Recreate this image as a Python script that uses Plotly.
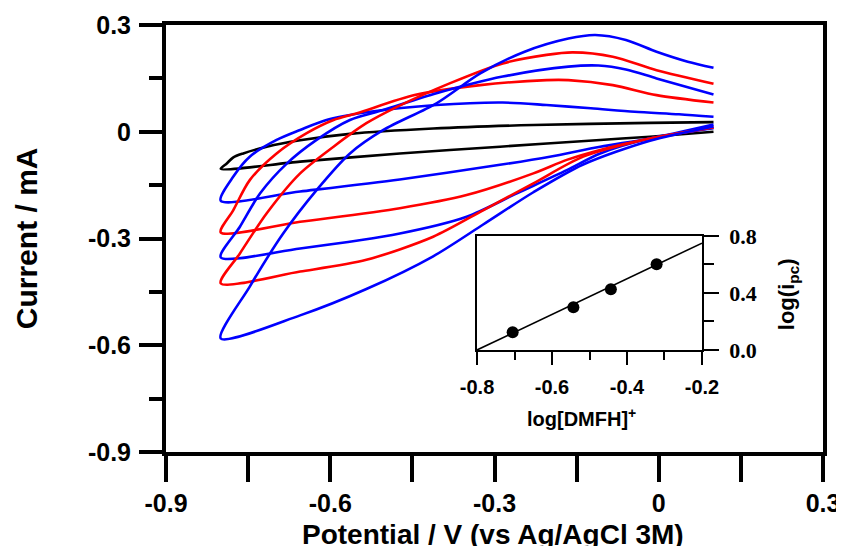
import plotly.graph_objects as go

# ---------------- main CV data (potential V, current mA) ----------------
# each curve: lower (cathodic) branch from 0.1 V down to -0.8 V, then upper branch back to 0.1 V
black_lower_x = [0.1, -0.016, -0.107, -0.29, -0.473, -0.655, -0.8]
black_lower_y = [0.0, -0.014, -0.023, -0.042, -0.061, -0.084, -0.104]
black_upper_x = [-0.8, -0.789, -0.777, -0.759, -0.716, -0.655, -0.564, -0.412, -0.229, -0.016, 0.1]
black_upper_y = [-0.104, -0.089, -0.072, -0.061, -0.042, -0.024, -0.006, 0.009, 0.019, 0.025, 0.027]

blue1_lower_x = [0.1, -0.016, -0.107, -0.199, -0.29, -0.473, -0.655, -0.8]
blue1_lower_y = [0.02, -0.019, -0.042, -0.070, -0.093, -0.134, -0.168, -0.194]
blue1_upper_x = [-0.8, -0.777, -0.747, -0.698, -0.655, -0.607, -0.527, -0.406, -0.285, -0.205, -0.124, -0.044, 0.037, 0.1]
blue1_upper_y = [-0.194, -0.126, -0.070, -0.023, 0.005, 0.033, 0.056, 0.075, 0.082, 0.075, 0.066, 0.056, 0.049, 0.042]

red1_lower_x = [0.1, -0.016, -0.107, -0.168, -0.229, -0.351, -0.473, -0.655, -0.8]
red1_lower_y = [0.012, -0.019, -0.051, -0.079, -0.117, -0.178, -0.215, -0.253, -0.283]
red1_upper_x = [-0.8, -0.777, -0.747, -0.698, -0.643, -0.594, -0.551, -0.446, -0.326, -0.205, -0.165, -0.084, -0.004, 0.1]
red1_upper_y = [-0.283, -0.220, -0.136, -0.061, -0.004, 0.033, 0.052, 0.103, 0.131, 0.145, 0.145, 0.131, 0.103, 0.082]

blue2_lower_x = [0.1, -0.016, -0.107, -0.168, -0.259, -0.351, -0.473, -0.655, -0.8]
blue2_lower_y = [0.01, -0.019, -0.061, -0.108, -0.173, -0.239, -0.286, -0.328, -0.353]
blue2_upper_x = [-0.8, -0.765, -0.728, -0.679, -0.625, -0.564, -0.503, -0.406, -0.285, -0.165, -0.11, -0.06, -0.004, 0.1]
blue2_upper_y = [-0.353, -0.267, -0.173, -0.089, -0.023, 0.033, 0.061, 0.108, 0.155, 0.183, 0.186, 0.175, 0.150, 0.105]

red2_lower_x = [0.1, -0.016, -0.138, -0.229, -0.320, -0.412, -0.534, -0.655, -0.8]
red2_lower_y = [0.012, -0.019, -0.070, -0.145, -0.220, -0.295, -0.360, -0.393, -0.426]
red2_upper_x = [-0.8, -0.765, -0.716, -0.655, -0.594, -0.534, -0.478, -0.382, -0.285, -0.205, -0.157, -0.084, -0.004, 0.1]
red2_upper_y = [-0.426, -0.342, -0.229, -0.117, -0.042, 0.024, 0.070, 0.136, 0.192, 0.216, 0.223, 0.211, 0.173, 0.135]

blue3_lower_x = [0.1, -0.016, -0.138, -0.229, -0.320, -0.412, -0.534, -0.655, -0.8]
blue3_lower_y = [0.015, -0.025, -0.092, -0.170, -0.260, -0.350, -0.442, -0.516, -0.581]
blue3_upper_x = [-0.8, -0.747, -0.686, -0.625, -0.564, -0.503, -0.406, -0.326, -0.245, -0.165, -0.116, -0.06, -0.004, 0.053, 0.1]
blue3_upper_y = [-0.581, -0.435, -0.286, -0.164, -0.061, 0.005, 0.080, 0.164, 0.225, 0.262, 0.272, 0.258, 0.225, 0.197, 0.180]

main_tickvals_x = [-0.9, -0.6, -0.3, 0, 0.3]
main_ticktext_x = ["-0.9", "-0.6", "-0.3", "0", "0.3"]
main_tickvals_y = [0.3, 0, -0.3, -0.6, -0.9]
main_ticktext_y = ["0.3", "0", "-0.3", "-0.6", "-0.9"]

# ---------------- inset data ----------------
inset_x = [-0.705, -0.543, -0.443, -0.321]
inset_y = [0.124, 0.300, 0.426, 0.601]
fit_x = [-0.8, -0.2]
fit_y = [0.0, 0.75]
inset_tickvals_x = [-0.8, -0.6, -0.4, -0.2]
inset_ticktext_x = ["-0.8", "-0.6", "-0.4", "-0.2"]
inset_tickvals_y = [0.0, 0.4, 0.8]
inset_ticktext_y = ["0.0", "0.4", "0.8"]

curves = [
    (black_lower_x, black_lower_y, black_upper_x, black_upper_y, "black"),
    (blue1_lower_x, blue1_lower_y, blue1_upper_x, blue1_upper_y, "#0000ff"),
    (red1_lower_x, red1_lower_y, red1_upper_x, red1_upper_y, "#ff0000"),
    (blue2_lower_x, blue2_lower_y, blue2_upper_x, blue2_upper_y, "#0000ff"),
    (red2_lower_x, red2_lower_y, red2_upper_x, red2_upper_y, "#ff0000"),
    (blue3_lower_x, blue3_lower_y, blue3_upper_x, blue3_upper_y, "#0000ff"),
]

fig = go.Figure()
for lx, ly, ux, uy, col in curves:
    fig.add_trace(go.Scatter(
        x=lx + ux[1:], y=ly + uy[1:], mode="lines",
        line=dict(color=col, width=2.6, shape="spline", smoothing=0.8),
        showlegend=False, xaxis="x", yaxis="y"))

fig.add_trace(go.Scatter(x=fit_x, y=fit_y, mode="lines",
                         line=dict(color="black", width=1.6),
                         showlegend=False, xaxis="x2", yaxis="y2"))
fig.add_trace(go.Scatter(x=inset_x, y=inset_y, mode="markers",
                         marker=dict(color="black", size=12),
                         showlegend=False, xaxis="x2", yaxis="y2"))

bold = dict(family="Liberation Sans, Arial, sans-serif", color="black", weight="bold")

# the page body adds an 8 px offset, so the figure is 8 px smaller and margins shifted
fig.update_layout(
    width=836, height=538,
    margin=dict(l=158, r=21, t=17, b=94, autoexpand=False),
    paper_bgcolor="white", plot_bgcolor="white",
    xaxis=dict(range=[-0.9, 0.3], tickmode="array", tickvals=main_tickvals_x, ticktext=main_ticktext_x,
               ticks="outside", ticklen=26, tickwidth=3.5, tickcolor="black",
               showline=True, linewidth=4, linecolor="black", mirror=True, automargin=False,
               showgrid=False, zeroline=False, ticklabelstandoff=0,
               tickfont=dict(size=25, **bold),
               minor=dict(ticks="outside", ticklen=26, tickwidth=3.5, tickcolor="black",
                          dtick=0.15, tick0=-0.9, showgrid=False)),
    yaxis=dict(range=[-0.9, 0.3], tickmode="array", tickvals=main_tickvals_y, ticktext=main_ticktext_y,
               ticks="outside", ticklen=23, tickwidth=3.5, tickcolor="black",
               showline=True, linewidth=4, linecolor="black", mirror=True, automargin=False,
               showgrid=False, zeroline=False, ticklabelstandoff=3,
               tickfont=dict(size=25, **bold),
               minor=dict(ticks="outside", ticklen=13, tickwidth=3.5, tickcolor="black",
                          dtick=0.15, tick0=-0.9, showgrid=False)),
    xaxis2=dict(domain=[0.4734, 0.8158], anchor="y2", range=[-0.8, -0.2],
                tickmode="array", tickvals=inset_tickvals_x, ticktext=inset_ticktext_x,
                ticks="outside", ticklen=13, tickwidth=1.6, tickcolor="black",
                showline=True, linewidth=1.6, linecolor="black", mirror=True, automargin=False,
                showgrid=False, zeroline=False, ticklabelstandoff=5,
                tickfont=dict(size=20, **bold),
                minor=dict(ticks="outside", ticklen=8, tickwidth=1.6, tickcolor="black",
                           dtick=0.1, tick0=-0.8, showgrid=False)),
    yaxis2=dict(domain=[0.2389, 0.5059], anchor="x2", side="right", range=[0, 0.8],
                tickmode="array", tickvals=inset_tickvals_y, ticktext=inset_ticktext_y,
                ticks="outside", ticklen=15, tickwidth=1.6, tickcolor="black",
                showline=True, linewidth=1.6, linecolor="black", mirror=True, automargin=False,
                showgrid=False, zeroline=False, ticklabelstandoff=6,
                tickfont=dict(size=22, family="Liberation Serif, Times New Roman, serif",
                              color="black", weight="bold"),
                minor=dict(ticks="outside", ticklen=10, tickwidth=1.6, tickcolor="black",
                           dtick=0.2, tick0=0, showgrid=False)),
    annotations=[
        dict(text="Current / mA", xref="paper", yref="paper", x=-0.212, y=0.5,
             textangle=-90, showarrow=False, font=dict(size=30, **bold),
             xanchor="center", yanchor="middle"),
        dict(text="Potential / V (vs Ag/AgCl 3M)", xref="paper", yref="paper", x=0.497, y=-0.194,
             showarrow=False, font=dict(size=28, **bold), xanchor="center", yanchor="middle"),
        dict(text="log[DMFH]<sup>+</sup>", xref="paper", yref="paper", x=0.632, y=0.08,
             showarrow=False, font=dict(size=20, **bold), xanchor="center", yanchor="middle"),
        dict(text="log(i<sub>pc</sub>)", xref="paper", yref="paper", x=0.947, y=0.37,
             textangle=-90, showarrow=False, font=dict(size=22, **bold),
             xanchor="center", yanchor="middle"),
    ],
)

fig.write_html("out.html")
